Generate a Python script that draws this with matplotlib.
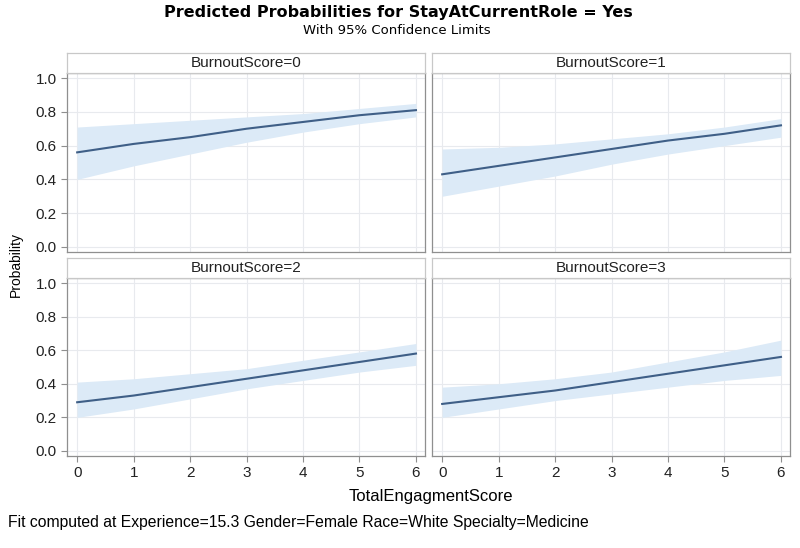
import numpy as np
import matplotlib
matplotlib.use("Agg")
import matplotlib.pyplot as plt

plt.rcParams['font.family'] = ['Liberation Sans', 'DejaVu Sans']

# values at each integer TotalEngagmentScore
score = [0, 1, 2, 3, 4, 5, 6]
panels = ["BurnoutScore=0", "BurnoutScore=1", "BurnoutScore=2", "BurnoutScore=3"]

prob_0 = [0.56, 0.61, 0.65, 0.70, 0.74, 0.78, 0.81]
low_0 = [0.40, 0.48, 0.55, 0.62, 0.68, 0.73, 0.77]
high_0 = [0.71, 0.73, 0.75, 0.77, 0.79, 0.82, 0.85]

prob_1 = [0.43, 0.48, 0.53, 0.58, 0.63, 0.67, 0.72]
low_1 = [0.30, 0.36, 0.42, 0.49, 0.55, 0.60, 0.65]
high_1 = [0.58, 0.59, 0.61, 0.64, 0.67, 0.71, 0.76]

prob_2 = [0.29, 0.33, 0.38, 0.43, 0.48, 0.53, 0.58]
low_2 = [0.20, 0.25, 0.31, 0.37, 0.42, 0.47, 0.51]
high_2 = [0.41, 0.43, 0.46, 0.49, 0.54, 0.59, 0.64]

prob_3 = [0.28, 0.32, 0.36, 0.41, 0.46, 0.51, 0.56]
low_3 = [0.20, 0.25, 0.30, 0.34, 0.38, 0.42, 0.45]
high_3 = [0.38, 0.40, 0.43, 0.47, 0.53, 0.59, 0.66]

probs = [prob_0, prob_1, prob_2, prob_3]
lows = [low_0, low_1, low_2, low_3]
highs = [high_0, high_1, high_2, high_3]

yticks = [0.0, 0.2, 0.4, 0.6, 0.8, 1.0]

line_col = '#3f5f87'
band_col = '#dceaf7'
frame_col = '#8f8f8f'

W, H = 800, 548
fig = plt.figure(figsize=(8, 5.48), dpi=100)

# pixel boxes: (left, right, top, bottom) for the plot areas
boxes = [(67, 425, 73, 252), (432, 790, 73, 252),
         (67, 425, 278, 456), (432, 790, 278, 456)]
strip_h = 20

for i, (l, r, t, b) in enumerate(boxes):
    ax = fig.add_axes([l / W, 1 - b / H, (r - l) / W, (b - t) / H])
    x = np.array(score)
    ax.fill_between(x, lows[i], highs[i], color=band_col, lw=0)
    ax.plot(x, probs[i], color=line_col, lw=1.5)
    ax.set_xlim(-0.18, 6.16)
    ax.set_ylim(-0.03, 1.03)
    ax.set_xticks(score)
    ax.set_yticks(yticks)
    ax.grid(True, color='#e8eaee', lw=0.8)
    ax.set_axisbelow(True)
    for s in ax.spines.values():
        s.set_color(frame_col)
        s.set_linewidth(0.9)
    ax.tick_params(colors=frame_col, labelcolor='#222222', labelsize=11, length=4, width=0.8)
    if i % 2 == 0:
        ax.set_yticklabels([f"{v:.1f}" for v in yticks])
    else:
        ax.tick_params(axis='y', left=False, labelleft=False)
    if i >= 2:
        ax.set_xticklabels([str(v) for v in score])
    else:
        ax.tick_params(axis='x', bottom=False, labelbottom=False)

    sax = fig.add_axes([l / W, 1 - t / H, (r - l) / W, strip_h / H])
    sax.set_xticks([])
    sax.set_yticks([])
    for s in sax.spines.values():
        s.set_color('#c8c8c8')
        s.set_linewidth(0.9)
    sax.text(0.5, 0.5, panels[i], ha='center', va='center', fontsize=11, color='#222222',
             transform=sax.transAxes)

fig.text(398 / W, 1 - 13 / H, "Predicted Probabilities for StayAtCurrentRole = Yes",
         ha='center', va='center', fontsize=11.5, fontweight='bold', family='DejaVu Sans')
fig.text(397 / W, 1 - 31 / H, "With 95% Confidence Limits", ha='center', va='center',
         fontsize=9.5, family='DejaVu Sans')
fig.text(16 / W, 1 - 265 / H, "Probability", ha='center', va='center', rotation=90, fontsize=10)
fig.text(431 / W, 1 - 497 / H, "TotalEngagmentScore", ha='center', va='center', fontsize=12)
fig.text(8 / W, 1 - 523 / H, "Fit computed at Experience=15.3 Gender=Female Race=White Specialty=Medicine",
         ha='left', va='center', fontsize=11.3)

fig.savefig("out.png", dpi=100)
